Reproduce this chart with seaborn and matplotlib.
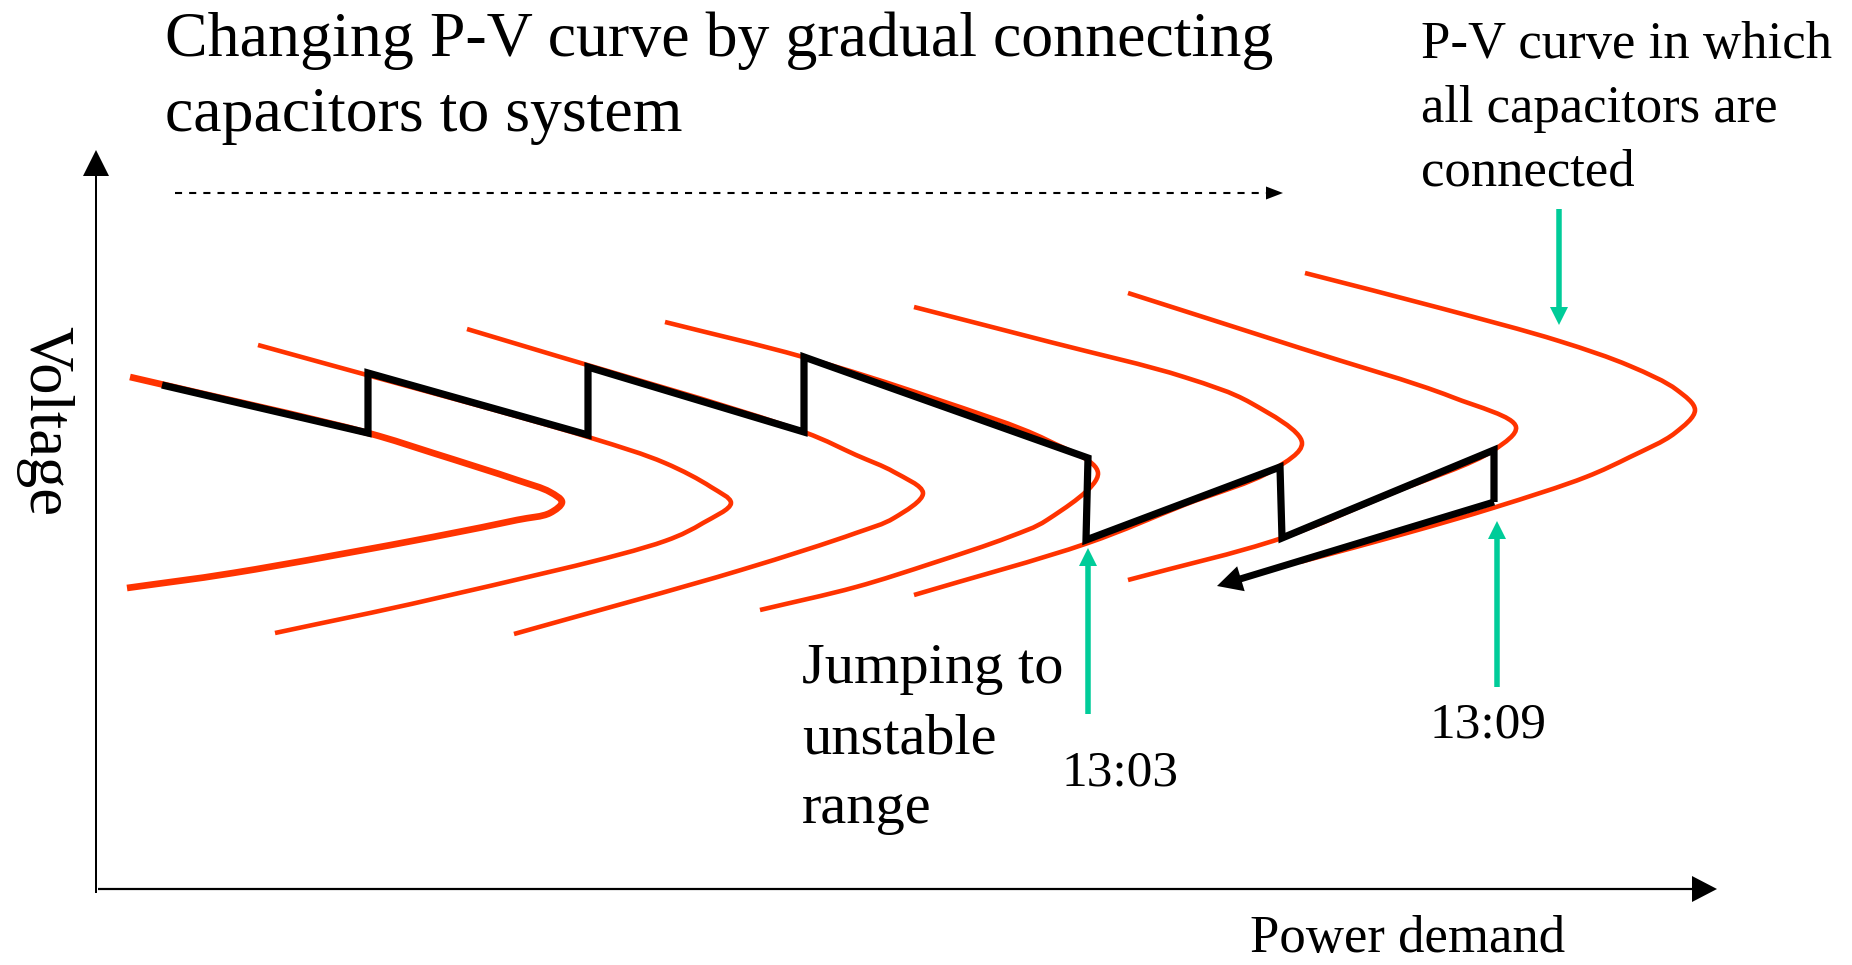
import numpy as np
import pandas as pd
import matplotlib
matplotlib.use("Agg")
import matplotlib.pyplot as plt
from matplotlib.path import Path
from matplotlib.patches import PathPatch
import seaborn as sns

# ---------------- data (schematic, in picture units) ----------------
# P-V nose curves: points (upper branch -> nose -> lower branch)
curve1_x = [130, 368, 433, 517, 550, 562, 550, 517, 433, 233, 127]
curve1_y = [377, 433, 453, 480, 492, 502, 513, 520, 537, 573, 588]
curve2_x = [258, 588, 665, 711, 731, 703, 665, 433, 275]
curve2_y = [345, 437, 463, 487, 503, 523, 541, 599, 633]
curve3_x = [467, 804, 856, 894, 923, 894, 856, 741, 514]
curve3_y = [329, 432, 455, 472, 493, 518, 533, 570, 634]
curve4_x = [665, 803, 933, 1047, 1098, 1047, 1009, 933, 856, 760]
curve4_y = [322, 357, 398, 440, 473, 520, 537, 563, 587, 610]
curve5_x = [914, 1050, 1184, 1251, 1302, 1273, 1184, 1088, 914]
curve5_y = [307, 342, 377, 403, 443, 470, 505, 543, 595]
curve6_x = [1128, 1300, 1452, 1516, 1494, 1390, 1282, 1128]
curve6_y = [293, 348, 397, 427, 450, 494, 538, 580]
curve7_x = [1305, 1440, 1559, 1630, 1677, 1695, 1675, 1630, 1586, 1496, 1407, 1300]
curve7_y = [273, 308, 341, 366, 390, 410, 433, 457, 477, 507, 533, 562]

# operating point trajectory (black), last segment ends in an arrow
path_x = [162, 368, 368, 588, 588, 804, 804, 1088, 1086, 1280, 1282, 1494, 1494, 1217]
path_y = [385, 433, 373, 435, 367, 432, 357, 458, 540, 467, 538, 450, 502, 586]

# dashed "direction of change" arrow
dash_x = [175, 1283]
dash_y = [193, 193]

# annotation arrows (green): tail -> head
green_x = [[1559, 1559], [1088, 1088], [1497, 1497]]
green_y = [[209, 325], [714, 548], [687, 521]]

title_lines = ["Changing P-V curve by gradual connecting", "capacitors to system"]
right_lines = ["P-V curve in which", "all capacitors are", "connected"]
jump_lines = ["Jumping to", "unstable", "range"]
time_labels = ["13:03", "13:09"]
x_label = "Power demand"
y_label = "Voltage"

RED = "#FF3300"
GREEN = "#00CC99"

# ---------------- figure ----------------
sns.set_theme(style="white")
plt.rcParams["font.family"] = ["Liberation Serif", "DejaVu Serif"]

W, H = 1852, 965
fig = plt.figure(figsize=(W / 100, H / 100), dpi=100)
ax = fig.add_axes([0, 0, 1, 1])
ax.set_axis_off()


def smooth_path(xs, ys, alpha=0.5):
    """Centripetal Catmull-Rom through the given points, drawn as cubic Bezier segments."""
    P = np.column_stack([xs, ys]).astype(float)
    ext = np.vstack([2 * P[0] - P[1], P, 2 * P[-1] - P[-2]])
    verts = [P[0]]
    codes = [Path.MOVETO]
    for i in range(1, len(ext) - 2):
        p0, p1, p2, p3 = ext[i - 1], ext[i], ext[i + 1], ext[i + 2]
        d01 = max(np.hypot(*(p1 - p0)) ** alpha, 1e-6)
        d12 = max(np.hypot(*(p2 - p1)) ** alpha, 1e-6)
        d23 = max(np.hypot(*(p3 - p2)) ** alpha, 1e-6)
        t0, t1 = 0.0, d01
        t2, t3 = t1 + d12, t1 + d12 + d23
        m1 = (t2 - t1) * ((p1 - p0) / (t1 - t0) - (p2 - p0) / (t2 - t0) + (p2 - p1) / (t2 - t1))
        m2 = (t2 - t1) * ((p2 - p1) / (t2 - t1) - (p3 - p1) / (t3 - t1) + (p3 - p2) / (t3 - t2))
        verts += [p1 + m1 / 3.0, p2 - m2 / 3.0, p2]
        codes += [Path.CURVE4] * 3
    return Path(verts, codes)


curves = [(curve1_x, curve1_y, 4.8), (curve2_x, curve2_y, 3.3), (curve3_x, curve3_y, 3.3),
          (curve4_x, curve4_y, 3.3), (curve5_x, curve5_y, 3.3), (curve6_x, curve6_y, 3.3),
          (curve7_x, curve7_y, 3.3)]
for cx, cy, lw in curves:
    ax.add_patch(PathPatch(smooth_path(cx, cy), fill=False, edgecolor=RED, lw=lw,
                           capstyle="butt", joinstyle="round", zorder=2))

# black operating-point trajectory
ax.plot(path_x[:-1], path_y[:-1], color="black", lw=5.2, solid_joinstyle="miter",
        solid_capstyle="butt", zorder=3)
ax.arrow(path_x[-2], path_y[-2], path_x[-1] - path_x[-2], path_y[-1] - path_y[-2],
         width=7.0, head_width=26, head_length=25, length_includes_head=True,
         color="black", lw=0, zorder=3)

# dashed arrow (seaborn line + head)
df_dash = pd.DataFrame({"x": [dash_x[0], dash_x[1] - 15], "y": dash_y})
sns.lineplot(data=df_dash, x="x", y="y", sort=False, estimator=None, color="black",
             ax=ax, lw=1.5, linestyle=(0, (3.4, 3.4)))
ax.arrow(dash_x[1] - 17, dash_y[1], 17, 0, width=0.5, head_width=13, head_length=17,
         length_includes_head=True, color="black", lw=0)

# green arrows
for gx, gy in zip(green_x, green_y):
    ax.arrow(gx[0], gy[0], gx[1] - gx[0], gy[1] - gy[0], width=5.5, head_width=18,
             head_length=18, length_includes_head=True, color=GREEN, lw=0, zorder=4)

# axes arrows
ax.arrow(96, 893, 0, 150 - 893, width=2, head_width=26, head_length=26,
         length_includes_head=True, color="black", lw=0)
ax.arrow(98, 889, 1717 - 98, 0, width=2.2, head_width=26, head_length=25,
         length_includes_head=True, color="black", lw=0)

# texts
for i, t in enumerate(title_lines):
    ax.text(165, 56 + i * 75, t, fontsize=46, ha="left", va="baseline", color="black")
for i, t in enumerate(right_lines):
    ax.text(1421, 58 + i * 64, t, fontsize=38, ha="left", va="baseline", color="black")
for i, t in enumerate(jump_lines):
    ax.text(802, 683 + i * 70, t, fontsize=42, ha="left", va="baseline", color="black")
ax.text(1062, 785, time_labels[0], fontsize=37, ha="left", va="baseline", color="black")
ax.text(1429, 738, time_labels[1], fontsize=37, ha="left", va="baseline", color="black")
ax.text(1250, 952, x_label, fontsize=38, ha="left", va="baseline", color="black")
ax.text(44, 421, y_label, fontsize=45, rotation=270, ha="center", va="center", color="black")

ax.set_xlim(0, W)
ax.set_ylim(H, 0)
ax.set_xlabel("")
ax.set_ylabel("")
fig.savefig("out.png", dpi=100, facecolor="white")
